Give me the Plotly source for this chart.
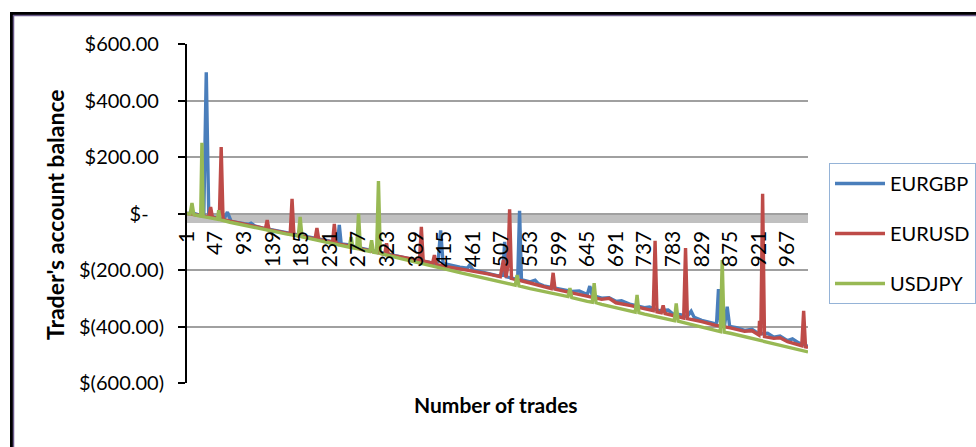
import plotly.graph_objects as go

# Account balance after each trade, per currency pair (trade number -> balance in $)
eurgbp_trade = [1, 10, 20, 28, 32, 36, 47, 60, 66, 72, 93, 100, 104, 110, 120, 139, 160, 185, 210, 231, 243, 246,
                249, 260, 277, 300, 323, 345, 369, 390, 400, 405, 409, 413, 425, 440, 452, 456, 461, 485, 500, 509,
                512, 515, 530, 533, 536, 539, 553, 561, 566, 575, 599, 620, 632, 645, 649, 653, 668, 680, 691, 700,
                715, 737, 745, 760, 775, 783, 795, 805, 812, 817, 829, 850, 853, 856, 859, 866, 870, 874, 885, 898,
                910, 921, 935, 945, 955, 967, 975, 985, 1000]
eurgbp_balance = [0, 2, -5, -8, 500, -10, -14, -22, 5, -28, -36, -38, -34, -44, -50, -58, -68, -78, -90, -98, -108,
                  -40, -108, -110, -121, -132, -142, -154, -165, -172, -178, -170, -60, -177, -184, -190, -194, -182,
                  -200, -212, -220, -219, -100, -224, -232, -230, 10, -234, -242, -236, -248, -256, -268, -276, -274,
                  -287, -257, -290, -300, -298, -311, -309, -322, -333, -331, -344, -342, -356, -358, -366, -346, -368,
                  -378, -390, -386, -268, -382, -392, -330, -400, -404, -414, -410, -426, -424, -438, -434, -450, -444,
                  -458, -470]

eurusd_trade = [1, 20, 36, 39, 42, 53, 56, 59, 70, 93, 120, 127, 130, 133, 139, 160, 167, 170, 173, 185, 207, 210,
                213, 231, 235, 238, 241, 260, 277, 300, 319, 322, 325, 345, 369, 375, 378, 381, 396, 399, 402, 415,
                440, 461, 485, 505, 510, 514, 517, 520, 523, 553, 575, 587, 590, 593, 620, 645, 668, 680, 691, 715,
                737, 751, 754, 757, 764, 767, 770, 783, 800, 803, 806, 829, 850, 875, 898, 910, 921, 922, 924, 927,
                930, 945, 955, 967, 985, 990, 993, 996, 1000]
eurusd_balance = [0, -6, -12, 23, -14, -18, 235, -22, -28, -38, -50, -55, -23, -58, -60, -70, -72, 52, -76, -80, -90,
                  -51, -93, -100, -104, -37, -107, -114, -124, -134, -145, -105, -147, -154, -163, -166, -47, -168,
                  -176, -147, -180, -187, -196, -204, -214, -224, -164, -226, -190, 15, -230, -246, -258, -266, -210,
                  -268, -281, -292, -304, -300, -316, -326, -338, -344, -97, -348, -351, -325, -354, -360, -370, -122,
                  -372, -383, -395, -405, -417, -415, -430, -380, -432, 70, -436, -442, -440, -454, -465, -468, -345,
                  -472, -474]

usdjpy_trade = [1, 6, 9, 12, 20, 23, 25, 27, 32, 40, 44, 50, 52, 54, 70, 93, 120, 139, 160, 180, 183, 186, 210, 231,
                255, 262, 265, 268, 274, 277, 280, 295, 298, 301, 306, 309, 312, 323, 345, 369, 390, 415, 440, 461,
                485, 507, 529, 532, 535, 553, 575, 599, 614, 617, 620, 645, 653, 656, 659, 668, 691, 715, 722, 725,
                728, 737, 760, 783, 785, 788, 791, 805, 829, 850, 859, 862, 865, 875, 898, 921, 945, 967, 985, 1000]
usdjpy_balance = [0, -2, 37, -4, -8, -9, 250, -11, -13, -16, -17, -20, 12, -22, -31, -42, -54, -62, -72, -80, -12, -83,
                  -94, -104, -115, -119, -83, -122, -124, 0, -127, -134, -95, -137, -139, 115, -141, -148, -160, -172,
                  -182, -196, -209, -220, -233, -244, -254, -218, -256, -266, -277, -288, -294, -264, -298, -311, -314,
                  -247, -316, -322, -334, -345, -349, -288, -351, -356, -367, -378, -379, -318, -381, -389, -401, -413,
                  -418, -165, -420, -424, -436, -448, -460, -472, -481, -490]

series_names = ["EURGBP", "EURUSD", "USDJPY"]
series_colors = ["#4a7ebb", "#be4b48", "#98b954"]

x_tick_vals = [1, 47, 93, 139, 185, 231, 277, 323, 369, 415, 461, 507, 553, 599, 645, 691, 737, 783, 829, 875, 921, 967]
y_tick_vals = [-600, -400, -200, 0, 200, 400, 600]
y_tick_text = ["$(600.00)", "$(400.00)", "$(200.00)", "$-\u00a0\u00a0\u00a0",
               "$200.00\u00a0", "$400.00\u00a0", "$600.00\u00a0"]

FONT = "Lato, Roboto, Liberation Sans, sans-serif"

fig = go.Figure()
for name, color, xs, ys in zip(series_names, series_colors,
                               [eurgbp_trade, eurusd_trade, usdjpy_trade],
                               [eurgbp_balance, eurusd_balance, usdjpy_balance]):
    fig.add_trace(go.Scatter(x=xs, y=ys, mode="lines", name=name, legendgroup=name,
                             line=dict(color=color, width=3.4)))

# plot-area pixel box and helpers converting pixels to paper coordinates
L, R, T, B = 187, 808, 44, 383
def px(xp):
    return (xp - L) / (R - L)
def py(yp):
    return (B - yp) / (B - T)

shapes = [
    # thick grey horizontal axis band at zero
    dict(type="rect", xref="paper", yref="y", x0=0, x1=1, y0=1, y1=-34,
         fillcolor="#c0c0c0", line=dict(width=0), layer="below"),
    # outer chart frame (top and left edges)
    dict(type="line", xref="paper", yref="paper", x0=px(10), x1=px(980), y0=py(13.5), y1=py(13.5),
         line=dict(color="#000000", width=3)),
    dict(type="line", xref="paper", yref="paper", x0=px(11.5), x1=px(11.5), y0=py(12), y1=py(460),
         line=dict(color="#000000", width=3)),
    dict(type="line", xref="paper", yref="paper", x0=px(13), x1=px(980), y0=py(15.5), y1=py(15.5),
         line=dict(color="#6b5b8b", width=1.5)),
    dict(type="line", xref="paper", yref="paper", x0=px(13.5), x1=px(13.5), y0=py(15), y1=py(460),
         line=dict(color="#6b5b8b", width=1.5)),
]

annotations = [
    dict(text="<b>Trader's account balance</b>", xref="paper", yref="paper", x=px(55), y=py(215),
         xanchor="center", yanchor="middle", textangle=-90, showarrow=False,
         font=dict(family=FONT, size=23, color="#000000")),
    dict(text="<b>Number of trades</b>", xref="paper", yref="paper", x=px(496), y=py(404),
         xanchor="center", yanchor="middle", showarrow=False,
         font=dict(family=FONT, size=21, color="#000000")),
]

fig.update_layout(
    width=976, height=447,
    margin=dict(l=L, r=976 - R, t=T, b=447 - B, autoexpand=False),
    paper_bgcolor="white", plot_bgcolor="white",
    font=dict(family=FONT, color="#000000"),
    shapes=shapes, annotations=annotations,
    showlegend=True,
    legend=dict(x=px(829), y=py(163), xanchor="left", yanchor="top",
                bordercolor="#95b3d7", borderwidth=1, bgcolor="white",
                font=dict(family=FONT, size=20), itemwidth=50,
                tracegroupgap=21, traceorder="grouped"),
    xaxis=dict(range=[1, 1000], anchor="free", position=0.5, tickmode="array",
               tickvals=x_tick_vals, tickangle=-90, showgrid=False, zeroline=False,
               showline=False, ticks="", ticklabelstandoff=12,
               tickfont=dict(family=FONT, size=21, color="#000000")),
    yaxis=dict(range=[-600, 600], tickmode="array", tickvals=y_tick_vals, ticktext=y_tick_text,
               showgrid=True, gridcolor="#a0a0a0", gridwidth=1.5, zeroline=False,
               showline=True, linecolor="#000000", linewidth=2,
               ticks="outside", ticklen=7, tickwidth=2, tickcolor="#000000",
               ticklabelstandoff=10,
               tickfont=dict(family=FONT, size=20, color="#000000")),
)

fig.write_html("out.html")
